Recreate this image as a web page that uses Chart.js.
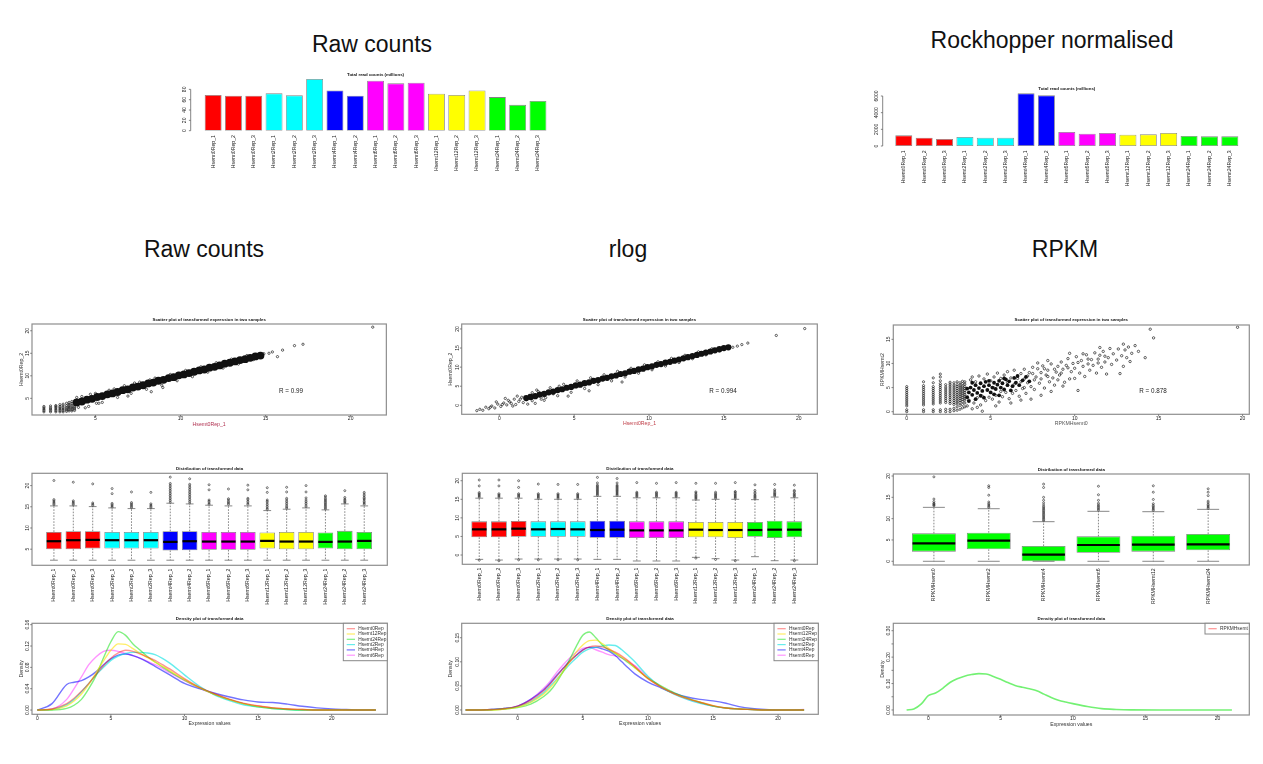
<!DOCTYPE html>
<html>
<head>
<meta charset="utf-8">
<script src="https://cdn.jsdelivr.net/npm/chart.js@4.4.1/dist/chart.umd.min.js"></script>
<style>
  html, body { margin: 0; padding: 0; background: #fff; }
  body { width: 1263px; height: 764px; position: relative; overflow: hidden;
         font-family: "Liberation Sans", Arial, Helvetica, sans-serif; }
  .head { position: absolute; font-size: 23px; color: #111; white-space: nowrap;
          transform: translate(-50%, -50%); }
  .panel { position: absolute; filter: blur(0.4px); }
</style>
</head>
<body>
<div class="head" style="left:372px;top:44px">Raw counts</div>
<div class="head" style="left:1052px;top:40px">Rockhopper normalised</div>
<div class="head" style="left:204px;top:249px">Raw counts</div>
<div class="head" style="left:628px;top:249px">rlog</div>
<div class="head" style="left:1065px;top:249px">RPKM</div>

<script>
const FONT = '"Liberation Sans", Arial, Helvetica, sans-serif';

// ---------- samples ----------
const sampleNames = ['Hsemt0Rep_1','Hsemt0Rep_2','Hsemt0Rep_3','Hsemt2Rep_1','Hsemt2Rep_2','Hsemt2Rep_3',
  'Hsemt4Rep_1','Hsemt4Rep_2','Hsemt6Rep_1','Hsemt6Rep_2','Hsemt6Rep_3','Hsemt12Rep_1','Hsemt12Rep_2',
  'Hsemt12Rep_3','Hsemt24Rep_1','Hsemt24Rep_2','Hsemt24Rep_3'];
const sampleGroup = [0,0,0,1,1,1,2,2,3,3,3,4,4,4,5,5,5];
const groupColors = ['#ff0000','#00ffff','#0000ff','#ff00ff','#ffff00','#00ff00'];
const rpkmNames = ['RPKMHsemt0','RPKMHsemt2','RPKMHsemt4','RPKMHsemt6','RPKMHsemt12','RPKMHsemt24'];

// ---------- total read counts ----------
const rawTotals  = [69, 67.7, 67.7, 72.3, 68.4, 100, 78, 67.7, 96.8, 91.6, 92.9, 71.6, 69, 78, 65, 50, 57.4];
const rockTotals = [1280, 1000, 840, 1080, 1000, 1000, 6320, 6080, 1680, 1480, 1560, 1360, 1400, 1560, 1200, 1160, 1160];
const rawTotalTicks  = [0, 20, 40, 60, 80];
const rockTotalTicks = [0, 2000, 4000, 6000];

// ---------- scatter: raw counts ----------
const rawStripeX = [1.97, 2.36, 2.67, 2.91, 3.1, 3.3, 3.45, 3.61, 3.77];
const rawStripeY = [
  [2.0, 2.3, 2.6, 2.9, 3.2], [2.0, 2.3, 2.6, 2.9, 3.3], [2.0, 2.3, 2.6, 2.9, 3.2, 3.4], [2.0, 2.3, 2.6, 2.9, 3.2, 3.6],
  [2.0, 2.3, 2.6, 2.9, 3.3, 3.7], [2.1, 2.4, 2.7, 3.0, 3.4, 3.9], [2.2, 2.5, 2.8, 3.1, 3.4, 3.7, 4.1],
  [2.2, 2.5, 2.8, 3.1, 3.5, 3.9, 4.3], [2.3, 2.6, 2.9, 3.2, 3.6, 4.0, 4.4]];
const rawCore = [[3.9,4.1],[4.2,4.3],[4.5,4.7],[4.8,4.9],[5.1,5.3],[5.4,5.5],[5.7,5.9],[6.0,6.1],[6.3,6.4],
  [6.6,6.8],[6.9,7.0],[7.2,7.4],[7.5,7.6],[7.8,7.9],[8.1,8.3],[8.4,8.5],[8.7,8.9],[9.0,9.1],[9.3,9.5],
  [9.6,9.7],[9.9,10.1],[10.2,10.3],[10.5,10.6],[10.8,10.9],[11.1,11.2],[11.4,11.4],[11.7,11.8],[12.0,12.0],
  [12.3,12.3],[12.6,12.7],[12.9,12.9],[13.2,13.2],[13.5,13.5],[13.8,13.7],[14.1,14.0],[14.4,14.3],[14.7,14.5]];
const rawLoose = [[4.2,5.4],[4.6,3.2],[5.0,6.1],[5.4,4.1],[5.8,6.8],[6.3,5.2],[6.7,7.8],[7.1,6.1],[7.6,8.6],
  [8.0,7.0],[8.5,9.5],[8.9,7.9],[9.4,10.3],[9.8,8.9],[10.3,11.2],[10.7,9.8],[11.2,12.0],[11.6,10.8],[12.1,12.9],
  [12.5,11.7],[13.0,13.7],[13.4,12.6],[13.9,14.5],[14.3,13.6],[3.9,5.2],[4.4,2.9],[5.06,3.9],[6.91,5.5],
  [8.28,6.47],[8.96,7.4],[15.2,15.0],[15.7,14.25],[16.0,15.7],[16.7,16.7],[17.2,17.0],[21.3,20.8],[14.9,14.9],
  [15.4,15.3],[14.8,14.3],[4.0,3.0],[4.7,5.9],[5.2,3.9],[6.1,7.1],[7.3,8.4],[8.2,9.1]];

// ---------- scatter: rlog ----------
const rlogCoreX = [1.8,2.1,2.4,2.7,3.0,3.3,3.6,3.9,4.2,4.5,4.8,5.1,5.4,5.7,6.0,6.3,6.6,6.9,7.2,7.5,7.8,8.1,8.4,8.7,
  9.0,9.3,9.6,9.9,10.2,10.5,10.8,11.1,11.4,11.7,12.0,12.3,12.6,12.9,13.2,13.5,13.8,14.1,14.4,14.7,15.0,15.3];
const rlogCoreY = [1.9,2.2,2.4,2.8,3.0,3.4,3.6,4.0,4.2,4.6,4.8,5.2,5.4,5.8,6.0,6.4,6.6,7.0,7.2,7.6,7.8,8.2,8.4,8.8,
  9.0,9.4,9.6,10.0,10.2,10.6,10.8,11.2,11.4,11.7,12.0,12.3,12.6,12.9,13.2,13.5,13.8,14.1,14.4,14.7,15.0,15.2];
const rlogLoose = [[-1.5,-1.4],[-1.3,-1.05],[-1.1,-1.3],[-0.9,-0.5],[-0.7,-0.9],[-0.5,-0.2],[-0.3,-0.7],[-0.1,0.3],
  [0.1,-0.3],[0.3,0.6],[0.5,0.1],[0.6,1.3],[0.8,0.5],[1.0,1.6],[1.1,0.2],[1.3,1.0],[1.5,2.1],[1.6,0.7],[1.8,1.5],
  [2.0,2.6],[2.2,1.2],[2.4,0.5],[1.2,2.4],[2.6,3.6],[0.4,1.8],[-0.2,0.9],[0.9,-0.2],[1.9,0.3],[2.8,1.6],[3.1,2.0],
  [2.5,4.0],[3.0,1.3],[3.4,4.6],[3.9,2.5],[4.3,5.5],[4.8,3.4],[5.2,6.4],[5.7,4.4],[6.1,7.2],[6.6,5.4],[7.0,8.0],
  [7.5,6.4],[7.9,8.9],[8.4,7.4],[8.8,9.7],[9.3,8.4],[9.7,10.6],[10.2,9.3],[10.6,11.4],[11.1,10.3],[11.5,12.3],
  [12.0,11.2],[12.4,13.1],[12.9,12.2],[13.3,14.0],[13.8,13.2],[14.2,14.8],[14.7,14.2],[6.0,3.8],[8.2,6.1],
  [4.6,2.4],[15.6,15.2],[15.9,15.5],[16.2,15.9],[16.6,16.3],[18.5,18.3],[20.4,20.1],[2.2,3.3],[3.6,3.0],[4.0,5.0],
  [0.7,0.9],[1.4,1.6],[2.1,1.8],[2.9,2.4],[0.2,0.2],[-0.6,-0.5]];

// ---------- scatter: RPKM ----------
const rpkmStripeX = [0, 1, 1.58, 2, 2.32, 2.58, 2.81, 3, 3.17, 3.32, 3.46];
const rpkmStripeY = [
  [0, 0.4, 1.2, 1.6, 2.0, 2.4, 2.8, 3.2, 3.6, 4.0, 4.4, 4.8, 5.2],
  [0, 0.4, 1.4, 1.8, 2.2, 2.6, 3.0, 3.4, 3.8, 4.2, 4.6, 5.0, 5.4, 6.2],
  [0, 0.4, 1.6, 2.0, 2.4, 2.8, 3.2, 3.6, 4.0, 4.4, 4.8, 5.2, 6.0, 7.0],
  [0, 0.4, 1.8, 2.2, 2.6, 3.0, 3.4, 3.8, 4.2, 4.6, 5.0, 5.4, 5.8, 6.4, 7.2, 7.8],
  [0, 0.5, 1.9, 2.3, 2.7, 3.1, 3.5, 3.9, 4.3, 4.7, 5.1, 5.6],
  [0, 0.5, 1.7, 2.1, 2.5, 2.9, 3.3, 3.7, 4.1, 4.5, 4.9, 5.3, 5.7, 6.1],
  [0.2, 0.7, 1.5, 1.9, 2.3, 2.7, 3.1, 3.5, 3.9, 4.3, 4.7, 5.1, 5.5, 6.0],
  [0.3, 1.0, 1.6, 2.0, 2.4, 2.8, 3.2, 3.6, 4.0, 4.4, 4.8, 5.2, 5.6, 6.2],
  [0.5, 1.3, 1.9, 2.3, 2.7, 3.1, 3.5, 3.9, 4.3, 4.7, 5.1, 5.5, 6.0],
  [0.8, 1.5, 2.1, 2.5, 2.9, 3.3, 3.7, 4.1, 4.5, 4.9, 5.3, 5.8, 6.3],
  [1.0, 1.8, 2.4, 2.8, 3.2, 3.6, 4.0, 4.4, 4.8, 5.2, 5.7, 6.2]];
const rpkmCore = [[3.6,3.0],[3.7,4.0],[3.8,5.0],[3.9,3.5],[4.0,4.5],[4.1,5.5],[4.2,3.9],[4.3,4.9],[4.4,5.9],
  [4.5,4.3],[4.6,5.3],[4.7,6.2],[4.8,4.5],[4.9,5.5],[5.0,4.0],[5.1,5.0],[5.2,6.0],[5.3,4.7],[5.4,5.6],[5.5,6.4],
  [5.6,5.0],[5.7,5.9],[5.8,4.6],[5.9,6.7],[6.0,5.5],[6.1,6.3],[6.3,5.3],[6.4,7.0],[6.5,6.0],[6.7,5.5],[6.9,6.5],
  [7.1,7.2],[7.3,6.3],[3.6,4.8],[3.7,2.2],[3.9,6.0],[4.1,2.6],[4.4,3.3],[4.6,2.9],[4.9,6.4],[5.2,3.6],[5.5,3.4],
  [5.8,6.9],[6.2,4.4],[6.6,7.4]];
const rpkmLoose = [[3.6,1.2],[3.7,2.4],[3.8,6.6],[3.9,7.2],[4.0,1.8],[4.1,6.2],[4.2,2.9],[4.3,7.4],[4.4,1.4],
  [4.5,3.2],[4.6,6.8],[4.7,2.3],[4.8,7.8],[4.9,3.0],[5.0,6.4],[4.5,0.1],[4.2,0.9],[3.9,0.6],
  [5.1,2.6],[5.2,7.2],[5.3,3.4],[5.4,8.0],[5.5,2.0],[5.6,6.9],[5.7,3.1],[5.8,7.6],[5.9,4.0],[6.0,8.3],[6.1,2.7],
  [6.2,7.0],[6.3,3.8],[6.4,8.6],[6.5,4.4],[6.6,6.9],[6.7,3.2],[6.8,7.9],[6.9,4.8],[7.0,8.8],[5.3,1.2],[6.2,1.8],
  [6.8,2.4],[7.0,5.0],
  [7.1,3.8],[7.2,6.0],[7.3,8.1],[7.4,5.2],[7.5,9.2],[7.6,4.6],[7.7,7.2],[7.8,8.9],[7.9,5.9],[8.0,6.8],[8.1,9.5],
  [8.2,4.9],[8.3,7.6],[8.4,8.6],[8.5,6.2],[8.6,9.9],[8.7,7.0],[8.8,5.5],[8.9,8.2],[9.0,9.4],[7.4,2.6],[8.0,3.4],
  [8.6,4.2],[9.0,6.6],[7.8,10.1],[8.4,10.6],
  [9.1,7.6],[9.2,10.3],[9.3,8.8],[9.4,6.1],[9.5,9.6],[9.6,11.0],[9.7,6.8],[9.8,8.3],[9.9,10.0],[10.0,9.0],
  [10.1,11.4],[10.2,4.4],[10.3,8.0],[10.4,10.6],[10.5,9.4],[10.6,7.3],[10.7,11.8],[10.8,9.9],[10.9,8.6],
  [11.0,10.8],[9.3,5.3],[10.0,6.9],[10.5,12.0],[9.7,12.1],
  [11.1,9.6],[11.2,12.2],[11.3,8.0],[11.4,10.9],[11.5,11.7],[11.6,9.2],[11.7,12.5],[11.8,10.3],[11.9,7.8],
  [12.0,11.2],[12.1,13.1],[12.2,9.8],[12.3,12.0],[12.5,10.7],[12.6,13.0],[12.8,11.6],[12.9,9.4],[13.0,12.8],
  [13.2,13.4],[13.3,10.4],[12.7,7.9],[11.5,13.3],[13.1,11.2],
  [13.6,13.7],[13.8,12.5],[14.2,11.2],[14.5,17.1],[14.7,15.3],[13.4,12.1],[19.7,17.5],[12.9,14.0],
  [5.2,4.9],[5.6,4.2],[6.0,6.1],[6.4,5.7],[6.8,6.2],[7.2,7.4],[7.6,6.6],[8.0,8.1],[8.4,7.3],[8.8,8.8],[9.2,8.0],
  [7.0,6.8],[7.5,7.9],[8.2,8.9],[9.6,9.1],[10.2,10.2],[10.8,10.9],[11.4,10.1],[11.8,11.5]];

// ---------- boxplots: raw counts ----------
const rawBoxQ1  = [5.0,5.0,5.16,5.16,5.16,5.16,4.69,4.76,4.84,4.84,4.84,5.16,5.0,5.0,5.16,5.0,5.0];
const rawBoxQ3  = [9.08,9.24,9.24,9.08,9.08,9.08,9.24,9.24,9.08,9.08,9.08,8.92,9.08,9.08,8.92,9.32,9.08];
const rawBoxMed = [6.88,7.12,7.19,7.12,7.12,7.12,6.72,6.88,6.8,6.8,6.8,6.96,6.8,6.8,6.72,6.8,6.96];
const rawBoxHi  = [15.21,15.21,15.05,14.74,14.58,14.58,15.84,15.68,15.37,15.21,15.21,14.11,14.43,14.74,14.27,15.68,15.21];
const rawBoxLo  = [2.4,2.4,2.4,2.4,2.4,2.4,2.4,2.4,2.4,2.4,2.4,2.4,2.4,2.4,2.4,2.4,2.4];
const rawBoxOut = [
  [15.5,15.8,16.1,16.4,16.7,21.2], [15.5,15.8,16.1,16.4,20.8], [15.3,15.6,15.9,20.4],
  [14.9,15.2,15.5,15.8,18.1,19.3], [14.8,15.1,15.4,15.7,16.0,18.5], [14.8,15.1,15.4,15.7,18.4],
  [16.1,16.5,16.9,17.3,17.7,18.1,18.5,18.9,19.3,19.7,20.1,20.5,22.0],
  [15.9,16.3,16.7,17.1,17.5,17.9,18.3,18.7,19.1,19.5,19.9,20.3,21.6],
  [15.6,15.9,16.3,16.6,19.0,20.2], [15.6,15.9,16.2,16.6,16.9,19.2], [15.6,15.9,16.3,16.7,17.0,19.0,20.1],
  [14.4,14.7,15.1,15.5,15.9,16.3,16.6,18.4,19.5], [14.7,15.0,15.4,15.8,16.2,16.6,17.0,18.5,19.6],
  [15.0,15.4,15.8,16.2,16.6,17.1,18.5,20.0], [14.5,14.8,15.1,15.4,15.7,16.0,16.3,16.6,16.9,17.3,17.6],
  [15.9,16.2,16.5,16.8,17.2,18.8], [15.6,15.9,16.2,16.6,16.9,17.2,17.6,18.0,18.4]];

// ---------- boxplots: rlog ----------
const rlogBoxQ1  = [4.75,4.75,4.93,4.93,4.93,4.93,4.66,4.66,4.57,4.57,4.57,4.75,4.75,4.57,4.93,4.57,4.75];
const rlogBoxQ3  = [9.06,9.06,9.15,9.06,9.06,9.06,9.24,9.24,9.06,9.06,9.06,8.88,8.88,8.88,8.88,9.24,9.06];
const rlogBoxMed = [6.91,6.91,7.09,6.91,7.0,6.91,6.73,6.82,6.64,6.64,6.64,6.82,6.73,6.73,6.73,6.82,6.82];
const rlogBoxHi  = [15.3,15.3,15.3,15.0,15.0,15.0,15.8,15.8,15.4,15.4,15.4,14.8,15.0,15.0,14.9,15.6,15.4];
const rlogBoxLo  = [-1.17,-1.35,-1.08,-1.08,-1.08,-1.08,-1.17,-1.17,-1.61,-1.61,-1.61,-0.63,-0.99,-1.35,-0.45,-1.53,-1.35];
const rlogBoxOut = [
  [15.6,15.9,16.2,16.5,16.8,18.6,20.2,-1.4], [15.6,15.9,16.2,16.5,18.6,20.2,-1.55], [15.6,15.9,16.2,16.5,18.2,20.0,-1.3],
  [15.3,15.6,15.9,16.2,16.5,19.1,-1.3], [15.3,15.6,15.9,16.2,16.5,19.0,-1.3], [15.3,15.6,15.9,16.2,16.5,19.0,-1.3],
  [16.1,16.4,16.7,17.0,17.3,17.6,17.9,18.2,18.5,18.8,19.4,20.9], [16.1,16.4,16.7,17.0,17.3,17.6,17.9,18.2,18.5,18.8,19.4,20.6],
  [15.7,16.0,16.3,16.6,16.9,19.5], [15.7,16.0,16.3,16.6,16.9,19.3], [15.7,16.0,16.3,16.6,16.9,19.5],
  [15.1,15.4,15.7,16.0,16.3,16.7,17.0,19.3,-0.85], [15.3,15.6,15.9,16.2,16.5,16.9,19.3,-1.2],
  [15.3,15.6,15.9,16.2,16.5,16.9,17.1,19.5,-1.55], [15.2,15.5,15.8,16.1,16.5,16.9,17.4,18.9],
  [15.9,16.2,16.5,16.8,17.2,17.6,19.0], [15.7,16.0,16.3,16.6,17.1,17.4,18.8,-1.55]];

// ---------- boxplots: RPKM ----------
const rpkmBoxQ1  = [2.26, 2.8, 0, 2.02, 2.26, 2.57];
const rpkmBoxQ3  = [6.55, 6.71, 3.59, 5.85, 6.01, 6.4];
const rpkmBoxMed = [4.21, 4.83, 1.55, 3.82, 3.9, 3.98];
const rpkmBoxHi  = [12.65, 12.33, 9.29, 11.72, 11.63, 12.18];
const rpkmBoxLo  = [0, 0, 0, 0, 0, 0];
const rpkmBoxOut = [
  [13.0,13.2,13.4,13.6,14.0,14.6,19.8], [12.6,12.9,13.2,13.5,13.9,15.5,17.3,17.7],
  [9.5,9.8,10.1,10.4,10.7,11.0,11.3,11.6,11.9,12.2,12.5,12.8,13.2,13.7,14.3,15.0,17.3,18.1],
  [12.0,12.3,12.6,12.9,13.2,13.6,14.3,15.6,17.6], [11.9,12.2,12.5,12.8,13.1,13.5,14.5,16.2,17.7],
  [12.4,12.7,13.0,13.3,13.7,14.1,15.4,16.2,17.0]];

// ---------- density: raw counts ----------
const densRawX  = [0,1,2,2.5,3,3.5,4,4.5,5,5.5,6,6.5,7,7.5,8,8.5,9,10,11,12,13,14,15,16,17,18,19,20,21,22,23];
const densRaw0  = [0,.002,.012,.022,.035,.05,.067,.083,.097,.107,.112,.11,.105,.099,.093,.085,.077,.059,.043,.031,.021,.013,.008,.004,.002,.001,0,0,0,0,0];
const densRaw12 = [0,.001,.008,.017,.03,.048,.07,.092,.112,.124,.123,.115,.106,.098,.09,.082,.074,.057,.042,.03,.02,.012,.007,.004,.002,.001,0,0,0,0,0];
const densRaw24 = [0,0,.003,.009,.02,.04,.065,.098,.128,.147,.14,.124,.112,.1,.09,.081,.072,.056,.042,.03,.02,.012,.006,.003,.001,0,0,0,0,0,0];
const densRaw2  = [0,.001,.01,.02,.034,.05,.066,.08,.093,.101,.106,.108,.108,.107,.104,.097,.088,.066,.045,.029,.018,.01,.006,.003,.001,0,0,0,0,0,0];
const densRaw4  = [0,.012,.048,.052,.055,.062,.072,.085,.096,.103,.105,.102,.097,.09,.082,.074,.066,.05,.04,.032,.025,.019,.015,.014,.011,.007,.004,.002,.001,0,0];
const densRaw6  = [0,.002,.02,.04,.062,.085,.1,.11,.112,.11,.106,.102,.097,.091,.085,.078,.07,.055,.041,.03,.02,.012,.007,.004,.002,.001,0,0,0,0,0];

// ---------- density: rlog ----------
const densRlogX  = [-4,-3,-2,-1,0,1,2,2.5,3,3.5,4,4.5,5,5.5,6,6.5,7,7.5,8,8.5,9,10,11,12,13,14,15,16,17,18,19,20,21,22];
const densRlog0  = [0,0,.001,.003,.008,.02,.04,.054,.07,.086,.1,.113,.124,.131,.133,.131,.126,.12,.112,.102,.09,.065,.048,.034,.024,.016,.009,.004,.002,.001,0,0,0,0];
const densRlog12 = [0,0,0,.002,.006,.016,.033,.046,.062,.08,.1,.12,.135,.144,.145,.138,.128,.118,.11,.1,.088,.066,.048,.034,.024,.016,.009,.004,.002,.001,0,0,0,0];
const densRlog24 = [0,0,0,.002,.005,.012,.028,.04,.058,.08,.105,.132,.155,.162,.15,.135,.125,.117,.108,.098,.088,.066,.05,.036,.025,.016,.008,.004,.002,.001,0,0,0,0];
const densRlog2  = [0,0,.001,.003,.007,.017,.036,.05,.064,.08,.095,.108,.12,.127,.13,.133,.135,.134,.125,.113,.1,.07,.048,.033,.022,.014,.008,.004,.002,.001,0,0,0,0];
const densRlog4  = [0,0,.001,.003,.008,.022,.042,.056,.072,.087,.102,.114,.125,.13,.13,.127,.122,.113,.1,.087,.075,.058,.046,.035,.027,.022,.019,.014,.007,.003,.001,0,0,0];
const densRlog6  = [0,0,.001,.003,.008,.022,.045,.06,.078,.094,.108,.12,.128,.13,.125,.12,.115,.112,.108,.1,.092,.068,.048,.034,.023,.015,.008,.004,.002,.001,0,0,0,.001];

// ---------- density: RPKM ----------
const densRpkmX = [-1.5,-1,-0.5,0,0.5,1,1.5,2,2.5,3,3.5,4,4.5,5,5.5,6,6.5,7,7.5,8,8.5,9,9.5,10,11,12,13,14,16,18,20,21];
const densRpkm  = [0,.004,.022,.054,.064,.082,.104,.118,.128,.134,.1375,.136,.127,.116,.104,.093,.086,.08,.073,.06,.047,.037,.03,.024,.013,.005,.002,.0005,0,0,0,0];

const densLabels = ['Hsemt0Rep','Hsemt12Rep','Hsemt24Rep','Hsemt2Rep','Hsemt4Rep','Hsemt6Rep'];
const densColors = ['rgba(255,0,0,0.42)','rgba(255,225,0,0.6)','rgba(0,225,0,0.5)','rgba(0,225,225,0.6)','rgba(0,0,255,0.55)','rgba(255,0,255,0.42)'];

// ---------- drawing helpers ----------
const rAxes = {
  id: 'rAxes',
  afterDatasetsDraw(chart, args, o) {
    const ctx = chart.ctx, a = chart.chartArea, xs = chart.scales.x, ys = chart.scales.y;
    const seg = (x1, y1, x2, y2) => { ctx.beginPath(); ctx.moveTo(x1, y1); ctx.lineTo(x2, y2); ctx.stroke(); };
    const midX = (a.left + a.right) / 2, midY = (a.top + a.bottom) / 2;
    ctx.save();

    // whiskers, staples and medians of the boxplots
    if (o.box) {
      const b = o.box, els = chart.getDatasetMeta(0).data;
      els.forEach((el, i) => {
        const half = el.width / 2;
        const yHi = ys.getPixelForValue(b.hi[i]), yLo = ys.getPixelForValue(b.lo[i]);
        const yQ3 = ys.getPixelForValue(b.q3[i]), yQ1 = ys.getPixelForValue(b.q1[i]);
        ctx.strokeStyle = '#555'; ctx.lineWidth = 0.7;
        ctx.setLineDash([1.6, 1.4]);
        seg(el.x, yQ3, el.x, yHi); seg(el.x, yQ1, el.x, yLo);
        ctx.setLineDash([]);
        seg(el.x - half / 2, yHi, el.x + half / 2, yHi);
        seg(el.x - half / 2, yLo, el.x + half / 2, yLo);
        ctx.strokeStyle = '#000'; ctx.lineWidth = 2.2;
        const yM = ys.getPixelForValue(b.med[i]);
        seg(el.x - half + 0.6, yM, el.x + half - 0.6, yM);
      });
    }

    if (o.frame) {
      ctx.strokeStyle = '#8e8e8e'; ctx.lineWidth = 1.2;
      ctx.strokeRect(a.left, a.top, a.right - a.left, a.bottom - a.top);
    }

    ctx.strokeStyle = '#666'; ctx.lineWidth = 0.8; ctx.fillStyle = '#222';

    if (o.xTicks) {
      ctx.font = `5px ${FONT}`; ctx.textAlign = 'center'; ctx.textBaseline = 'middle';
      o.xTicks.forEach(v => {
        const px = xs.getPixelForValue(v);
        seg(px, a.bottom, px, a.bottom + 1.8);
        ctx.fillText(String(v), px, a.bottom + 4);
      });
    }

    if (o.yTicks) {
      const ax = a.left - (o.yAxisGap || 0);
      if (o.yAxisGap) seg(ax, ys.getPixelForValue(o.yTicks[0]), ax, ys.getPixelForValue(o.yTicks[o.yTicks.length - 1]));
      ctx.font = `5px ${FONT}`; ctx.textAlign = 'center'; ctx.textBaseline = 'middle';
      o.yTicks.forEach((v, i) => {
        const py = ys.getPixelForValue(v);
        seg(ax - 1.8, py, ax, py);
        const lbl = o.yLabels ? o.yLabels[i] : String(v);
        if (lbl) {
          ctx.save(); ctx.translate(ax - (o.yLabelGap || 4.5), py); ctx.rotate(-Math.PI / 2);
          ctx.fillText(lbl, 0, 0); ctx.restore();
        }
      });
    }

    if (o.categories) {
      ctx.font = `5.2px ${FONT}`; ctx.textAlign = 'right'; ctx.textBaseline = 'middle';
      o.categories.forEach((t, i) => {
        const px = xs.getPixelForValue(o.catPos ? o.catPos[i] : i);
        ctx.save(); ctx.translate(px, a.bottom + o.catGap); ctx.rotate(-Math.PI / 2);
        ctx.fillText(t, 0, 0); ctx.restore();
      });
    }

    if (o.title) {
      ctx.font = `bold 4.4px ${FONT}`; ctx.textAlign = 'center'; ctx.textBaseline = 'middle'; ctx.fillStyle = '#111';
      ctx.fillText(o.title, midX, a.top - o.titleGap);
    }
    if (o.xTitle) {
      ctx.font = `5.2px ${FONT}`; ctx.textAlign = 'center'; ctx.textBaseline = 'middle';
      ctx.fillStyle = o.xTitleColor || '#333';
      ctx.fillText(o.xTitle, midX, a.bottom + 9.2);
    }
    if (o.yTitle) {
      ctx.font = `5.2px ${FONT}`; ctx.textAlign = 'center'; ctx.textBaseline = 'middle'; ctx.fillStyle = '#333';
      ctx.save(); ctx.translate(a.left - 10.8, midY); ctx.rotate(-Math.PI / 2);
      ctx.fillText(o.yTitle, 0, 0); ctx.restore();
    }
    if (o.note) {
      ctx.font = `6.3px ${FONT}`; ctx.textAlign = 'center'; ctx.textBaseline = 'middle'; ctx.fillStyle = '#222';
      ctx.fillText(o.note.text, xs.getPixelForValue(o.note.x), ys.getPixelForValue(o.note.y));
    }
    if (o.legend) {
      const L = o.legend, x0 = a.right - L.w, y0 = a.top;
      ctx.fillStyle = '#fff'; ctx.fillRect(x0, y0, L.w, L.h);
      ctx.strokeStyle = '#888'; ctx.lineWidth = 1; ctx.strokeRect(x0, y0, L.w, L.h);
      ctx.font = `4.8px ${FONT}`; ctx.textAlign = 'left'; ctx.textBaseline = 'middle';
      L.items.forEach((it, i) => {
        const yy = y0 + 5.4 + i * 5.3;
        ctx.strokeStyle = it.color; ctx.lineWidth = 1.2; seg(x0 + 3.4, yy, x0 + 11.7, yy);
        ctx.fillStyle = '#333'; ctx.fillText(it.label, x0 + 15, yy);
      });
    }
    ctx.restore();
  }
};

function panel(area, margin, config) {
  const [x0, y0, x1, y1] = area;
  const left = Math.floor(x0 - margin[0]), top = Math.floor(y0 - margin[1]);
  const right = Math.ceil(x1 + margin[2]), bottom = Math.ceil(y1 + margin[3]);
  const w = right - left, h = bottom - top;
  const cv = document.createElement('canvas');
  cv.width = w; cv.height = h; cv.className = 'panel';
  cv.style.left = left + 'px'; cv.style.top = top + 'px';
  cv.style.width = w + 'px'; cv.style.height = h + 'px';
  document.body.appendChild(cv);
  const o = config.options;
  o.responsive = false; o.animation = false; o.events = []; o.devicePixelRatio = 1;
  o.layout = { padding: { left: 0, top: y0 - top, right: right - x1, bottom: 0 } };
  o.plugins = Object.assign({ legend: { display: false }, tooltip: { enabled: false } }, o.plugins);
  const hidden = () => ({ ticks: { display: false }, grid: { display: false }, border: { display: false } });
  o.scales.x = Object.assign(hidden(), o.scales.x, { afterFit: s => { s.height = bottom - y1; } });
  o.scales.y = Object.assign(hidden(), o.scales.y, { afterFit: s => { s.width = x0 - left; } });
  config.plugins = [rAxes];
  return new Chart(cv, config);
}

const toPts = pairs => pairs.map(p => ({ x: p[0], y: p[1] }));
const stripePts = (xs, ys) => xs.flatMap((x, i) => ys[i].map(y => ({ x, y })));
const openPts = (data, r) => ({ data, pointRadius: r, pointBorderWidth: 0.65, pointBorderColor: '#111', pointBackgroundColor: 'rgba(0,0,0,0)' });
const corePts = (data, r) => ({ data, pointRadius: r, pointBorderWidth: 0, pointBackgroundColor: '#111' });

// ---------- total read counts ----------
const sampleColors = sampleGroup.map(g => groupColors[g]);
function totalsPanel(area, values, ticks, max, axisGap) {
  panel(area, [26, 10, 4, 42], {
    type: 'bar',
    data: { labels: sampleNames, datasets: [{ data: values, backgroundColor: sampleColors,
      borderColor: 'rgba(90,90,90,0.75)', borderWidth: 0.8, borderSkipped: false,
      barPercentage: 1 / 1.2, categoryPercentage: 1 }] },
    options: {
      scales: { x: { type: 'category' }, y: { type: 'linear', min: 0, max } },
      plugins: { rAxes: { yTicks: ticks, yAxisGap: axisGap, yLabelGap: 6.5, categories: sampleNames, catGap: 4.3,
        title: 'Total read counts (millions)', titleGap: 3 } }
    }
  });
}
totalsPanel([203, 78, 548.1, 130.7], rawTotals, rawTotalTicks, 102, 12.3);
totalsPanel([893.6, 92, 1240, 146], rockTotals, rockTotalTicks, 6480, 10.9);

// ---------- scatter plots ----------
const scatterTitle = 'Scatter plot of transformed expression in two samples';
panel([32, 324, 387, 415], [16, 10, 4, 14], {
  type: 'scatter',
  data: { datasets: [openPts(stripePts(rawStripeX, rawStripeY), 1.1), corePts(toPts(rawCore), 3.9), openPts(toPts(rawLoose), 1.15)] },
  options: {
    scales: { x: { type: 'linear', min: 1.27, max: 22.1 }, y: { type: 'linear', min: 1.3, max: 21.5 } },
    plugins: { rAxes: { frame: true, xTicks: [5, 10, 15, 20], yTicks: [5, 10, 15, 20], title: scatterTitle, titleGap: 4,
      xTitle: 'Hsemt0Rep_1', xTitleColor: '#b03050', yTitle: 'Hsemt0Rep_2', note: { x: 16.49, y: 6.62, text: 'R = 0.99' } } }
  }
});
panel([461.7, 324, 817.3, 414.3], [16, 10, 4, 14], {
  type: 'scatter',
  data: { datasets: [corePts(rlogCoreX.map((x, i) => ({ x, y: rlogCoreY[i] })), 3.1), openPts(toPts(rlogLoose), 1.15)] },
  options: {
    scales: { x: { type: 'linear', min: -2.51, max: 21.24 }, y: { type: 'linear', min: -2.36, max: 21.3 } },
    plugins: { rAxes: { frame: true, xTicks: [0, 5, 10, 15, 20], yTicks: [0, 5, 10, 15, 20], title: scatterTitle, titleGap: 4,
      xTitle: 'Hsemt0Rep_1', xTitleColor: '#c0404a', yTitle: 'Hsemt0Rep_2', note: { x: 14.94, y: 3.75, text: 'R = 0.994' } } }
  }
});
panel([893.3, 325, 1249.3, 414.3], [16, 10, 4, 14], {
  type: 'scatter',
  data: { datasets: [openPts(stripePts(rpkmStripeX, rpkmStripeY), 1.1), corePts(toPts(rpkmCore), 1.9), openPts(toPts(rpkmLoose), 1.2)] },
  options: {
    scales: { x: { type: 'linear', min: -0.8, max: 20.4 }, y: { type: 'linear', min: -0.54, max: 17.97 } },
    plugins: { rAxes: { frame: true, xTicks: [0, 5, 10, 15, 20], yTicks: [0, 5, 10, 15], title: scatterTitle, titleGap: 5,
      xTitle: 'RPKMHsemt0', xTitleColor: '#555', yTitle: 'RPKMHsemt2', note: { x: 14.66, y: 4.29, text: 'R = 0.878' } } }
  }
});

// ---------- boxplots ----------
function boxPanel(area, stats, colors, names, xr, yr, yTicks) {
  const pos = stats.q1.map((_, i) => i + 1);
  const outliers = stats.out.flatMap((list, i) => list.map(v => ({ x: i + 1, y: v })));
  panel(area, [16, 10, 4, 42], {
    type: 'bar',
    data: { datasets: [
      { type: 'bar', data: pos.map((p, i) => ({ x: p, y: [stats.q1[i], stats.q3[i]] })), backgroundColor: colors,
        borderColor: 'rgba(90,90,90,0.8)', borderWidth: 0.8, borderSkipped: false, barPercentage: 0.8, categoryPercentage: 1 },
      { type: 'scatter', data: outliers, pointRadius: 1.0, pointBorderWidth: 0.6, pointBorderColor: '#222',
        pointBackgroundColor: 'rgba(0,0,0,0)' }
    ] },
    options: {
      scales: { x: { type: 'linear', min: xr[0], max: xr[1], offset: false }, y: { type: 'linear', min: yr[0], max: yr[1] } },
      plugins: { rAxes: { frame: true, box: stats, yTicks, categories: names, catPos: pos, catGap: 3.3,
        title: 'Distribution of transformed data', titleGap: 4.3 } }
    }
  });
}
boxPanel([32, 473.3, 387.3, 565.3],
  { q1: rawBoxQ1, q3: rawBoxQ3, med: rawBoxMed, hi: rawBoxHi, lo: rawBoxLo, out: rawBoxOut },
  sampleColors, sampleNames, [-0.13, 18.19], [1.2, 22.9], [5, 10, 15, 20]);
boxPanel([462.3, 473.3, 817.7, 564.3],
  { q1: rlogBoxQ1, q3: rlogBoxQ3, med: rlogBoxMed, hi: rlogBoxHi, lo: rlogBoxLo, out: rlogBoxOut },
  sampleColors, sampleNames, [0.14, 18.17], [-2.5, 22.0], [0, 5, 10, 15, 20]);
boxPanel([893.3, 474, 1249.3, 565],
  { q1: rpkmBoxQ1, q3: rpkmBoxQ3, med: rpkmBoxMed, hi: rpkmBoxHi, lo: rpkmBoxLo, out: rpkmBoxOut },
  rpkmNames.map(() => '#00ff00'), rpkmNames, [0.26, 6.75], [-0.87, 20.47], [0, 5, 10, 15, 20]);

// ---------- density plots ----------
const densityTitle = 'Density plot of transformed data';
function densityLines(xs, seriesList, colors, labels, width) {
  return seriesList.map((ys, k) => ({
    label: labels[k], data: xs.map((x, i) => ({ x, y: ys[i] })), borderColor: colors[k], borderWidth: width,
    pointRadius: 0, cubicInterpolationMode: 'monotone', fill: false
  }));
}
const densItems = densLabels.map((label, k) => ({ label, color: densColors[k] }));
panel([32, 623.3, 387.3, 714.3], [16, 10, 4, 14], {
  type: 'line',
  data: { datasets: densityLines(densRawX, [densRaw0, densRaw12, densRaw24, densRaw2, densRaw4, densRaw6], densColors, densLabels, 1.4) },
  options: {
    scales: { x: { type: 'linear', min: -0.36, max: 23.78 }, y: { type: 'linear', min: -0.008, max: 0.1626 } },
    plugins: { rAxes: { frame: true, xTicks: [0, 5, 10, 15, 20], yTicks: [0, 0.04, 0.08, 0.12, 0.16],
      yLabels: ['0.00', '0.04', '0.08', '0.12', '0.16'], title: densityTitle, titleGap: 5,
      xTitle: 'Expression values', yTitle: 'Density', legend: { w: 44, h: 37.4, items: densItems } } }
  }
});
panel([461.7, 623.3, 818.3, 714.3], [16, 10, 4, 14], {
  type: 'line',
  data: { datasets: densityLines(densRlogX, [densRlog0, densRlog12, densRlog24, densRlog2, densRlog4, densRlog6], densColors, densLabels, 1.4) },
  options: {
    scales: { x: { type: 'linear', min: -4.3, max: 23.09 }, y: { type: 'linear', min: -0.009, max: 0.18 } },
    plugins: { rAxes: { frame: true, xTicks: [0, 5, 10, 15, 20], yTicks: [0, 0.05, 0.1, 0.15],
      yLabels: ['0.00', '0.05', '0.10', '0.15'], title: densityTitle, titleGap: 5,
      xTitle: 'Expression values', yTitle: 'Density', legend: { w: 44.3, h: 37.4, items: densItems } } }
  }
});
panel([893.3, 623.3, 1249.3, 715], [16, 10, 4, 14], {
  type: 'line',
  data: { datasets: densityLines(densRpkmX, [densRpkm], ['rgba(0,230,0,0.55)'], ['RPKMHsemt'], 1.6) },
  options: {
    scales: { x: { type: 'linear', min: -2.42, max: 22.2 }, y: { type: 'linear', min: -0.019, max: 0.328 } },
    plugins: { rAxes: { frame: true, xTicks: [0, 5, 10, 15, 20], yTicks: [0, 0.05, 0.1, 0.15, 0.2, 0.25, 0.3],
      yLabels: ['0.00', '', '0.10', '', '0.20', '', '0.30'], title: densityTitle, titleGap: 5,
      xTitle: 'Expression values', yTitle: 'Density',
      legend: { w: 44.3, h: 10.7, items: [{ label: 'RPKMHsemt', color: 'rgba(255,0,0,0.42)' }] } } }
  }
});
</script>
</body>
</html>
